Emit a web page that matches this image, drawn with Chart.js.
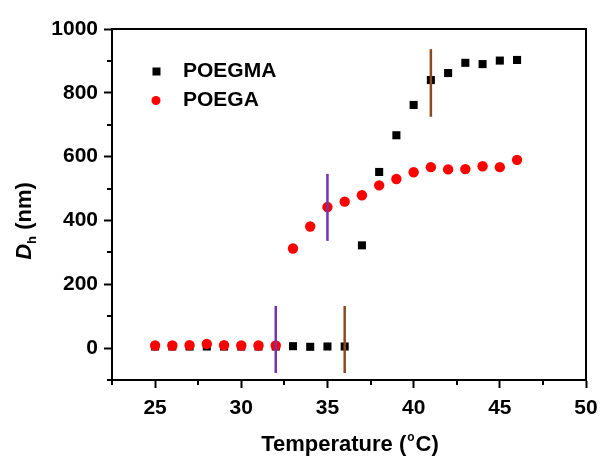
<!DOCTYPE html>
<html>
<head>
<meta charset="utf-8">
<script src="https://cdn.jsdelivr.net/npm/chart.js@4.4.1/dist/chart.umd.min.js"></script>
<style>
  body { margin: 0; background: #fff; }
</style>
</head>
<body>
<canvas id="myChart" width="601" height="456"></canvas>
<script>
const temps = [25, 26, 27, 28, 29, 30, 31, 32, 33, 34, 35, 36, 37, 38, 39, 40, 41, 42, 43, 44, 45, 46];
const poegma = [5, 5, 5, 5, 5, 5, 5, 5, 6, 4, 5, 5, 322, 552, 667, 762, 840, 862, 894, 890, 901, 903];
const poega = [8, 8, 9, 13, 9, 8, 8, 8, 312, 381, 442, 459, 479, 510, 530, 551, 567, 560, 561, 570, 567, 590];

const xTicks = [25, 30, 35, 40, 45, 50];
const yTicks = [0, 200, 400, 600, 800, 1000];
const xMinor = [22.5, 27.5, 32.5, 37.5, 42.5, 47.5];
const yMinor = [-100, 100, 300, 500, 700, 900];

// cloud point markers (vertical bars)
const markX = [32, 36, 35, 41];
const markLow = [-78, -78, 336, 725];
const markHigh = [132, 132, 546, 937];
const markColor = ['#7434b0', '#8b4a1e', '#7434b0', '#8b4a1e'];

const FONT = '"Liberation Sans", Arial, sans-serif';

const markSets = markX.map((x, i) => ({
  type: 'line',
  data: [{ x: x, y: markLow[i] }, { x: x, y: markHigh[i] }],
  borderColor: markColor[i],
  borderWidth: 2.5,
  pointRadius: 0,
  showLine: true,
  order: 1
}));

const extras = {
  id: 'extras',
  afterDraw(chart) {
    const ctx = chart.ctx;
    const a = chart.chartArea;
    const xs = chart.scales.x, ys = chart.scales.y;
    ctx.save();
    ctx.strokeStyle = '#000';
    ctx.lineWidth = 2;
    // top and right frame
    ctx.beginPath();
    ctx.moveTo(a.left, a.top);
    ctx.lineTo(a.right, a.top);
    ctx.lineTo(a.right, a.bottom);
    ctx.stroke();
    // minor ticks
    ctx.beginPath();
    xMinor.forEach(v => {
      const px = Math.round(xs.getPixelForValue(v));
      ctx.moveTo(px, a.bottom);
      ctx.lineTo(px, a.bottom + 5);
    });
    yMinor.forEach(v => {
      const py = Math.round(ys.getPixelForValue(v));
      ctx.moveTo(a.left - 5, py);
      ctx.lineTo(a.left, py);
    });
    ctx.stroke();

    // legend
    ctx.fillStyle = '#000';
    ctx.fillRect(152.5, 67.5, 8, 8);
    ctx.fillStyle = '#ff0000';
    ctx.beginPath();
    ctx.arc(156, 100.5, 4.5, 0, Math.PI * 2);
    ctx.fill();
    ctx.fillStyle = '#000';
    ctx.font = 'bold 21px ' + FONT;
    ctx.textBaseline = 'alphabetic';
    ctx.textAlign = 'left';
    ctx.fillText(chart.data.datasets[0].label, 183, 77);
    ctx.fillText(chart.data.datasets[1].label, 183, 106);

    // x title
    ctx.font = 'bold 22px ' + FONT;
    const p1 = 'Temperature (', p2 = 'o', p3 = 'C)';
    const w1 = ctx.measureText(p1).width, w3 = ctx.measureText(p3).width;
    ctx.font = 'bold 12px ' + FONT;
    const w2 = ctx.measureText(p2).width;
    let x0 = 350 - (w1 + w2 + w3 + 2) / 2;
    ctx.font = 'bold 22px ' + FONT;
    ctx.fillText(p1, x0, 451);
    ctx.font = 'bold 12px ' + FONT;
    ctx.fillText(p2, x0 + w1 + 1, 441);
    ctx.font = 'bold 22px ' + FONT;
    ctx.fillText(p3, x0 + w1 + w2 + 2, 451);

    // y title
    ctx.translate(31, 221);
    ctx.rotate(-Math.PI / 2);
    ctx.font = 'italic bold 22px ' + FONT;
    const d = 'D';
    const wd = ctx.measureText(d).width;
    ctx.font = 'bold 13px ' + FONT;
    const wh = ctx.measureText('h').width;
    ctx.font = 'bold 22px ' + FONT;
    const wn = ctx.measureText(' (nm)').width;
    let s = -(wd + wh + wn) / 2;
    ctx.font = 'italic bold 22px ' + FONT;
    ctx.fillText(d, s, 0);
    ctx.font = 'bold 13px ' + FONT;
    ctx.fillText('h', s + wd, 5);
    ctx.font = 'bold 22px ' + FONT;
    ctx.fillText(' (nm)', s + wd + wh, 0);
    ctx.restore();
  }
};

const ctx = document.getElementById('myChart');

new Chart(ctx, {
  type: 'scatter',
  data: {
    datasets: [
      {
        label: 'POEGMA',
        data: temps.map((t, i) => ({ x: t, y: poegma[i] })),
        pointStyle: 'rect',
        pointRadius: 5.7,
        pointBorderWidth: 0,
        backgroundColor: '#000',
        borderColor: '#000',
        order: 3
      },
      {
        label: 'POEGA',
        data: temps.map((t, i) => ({ x: t, y: poega[i] })),
        pointStyle: 'circle',
        pointRadius: 5.2,
        pointBorderWidth: 0,
        backgroundColor: '#ff0000',
        borderColor: '#ff0000',
        order: 2
      },
      ...markSets
    ]
  },
  options: {
    responsive: false,
    animation: false,
    layout: { padding: { left: 0, right: 15, top: 29, bottom: 0 } },
    plugins: {
      legend: { display: false },
      tooltip: { enabled: false }
    },
    scales: {
      x: {
        type: 'linear',
        min: 22.5,
        max: 50,
        afterBuildTicks: s => { s.ticks = xTicks.map(v => ({ value: v })); },
        afterFit: s => { s.height = 76; s.paddingLeft = 0; s.paddingRight = 0; },
        border: { color: '#000', width: 2 },
        grid: { drawOnChartArea: false, drawTicks: true, tickLength: 8, tickColor: '#000', tickWidth: 2 },
        ticks: {
          color: '#000',
          padding: 8,
          maxRotation: 0,
          callback: v => String(v),
          font: { family: FONT, size: 21, weight: 'bold' }
        }
      },
      y: {
        type: 'linear',
        min: -100,
        max: 1000,
        afterBuildTicks: s => { s.ticks = yTicks.map(v => ({ value: v })); },
        afterFit: s => { s.width = 112; s.paddingTop = 0; s.paddingBottom = 0; },
        border: { color: '#000', width: 2 },
        grid: { drawOnChartArea: false, drawTicks: true, tickLength: 8, tickColor: '#000', tickWidth: 2 },
        ticks: {
          color: '#000',
          padding: 6,
          callback: v => String(v),
          font: { family: FONT, size: 21, weight: 'bold' }
        }
      }
    }
  },
  plugins: [extras]
});
</script>
</body>
</html>
